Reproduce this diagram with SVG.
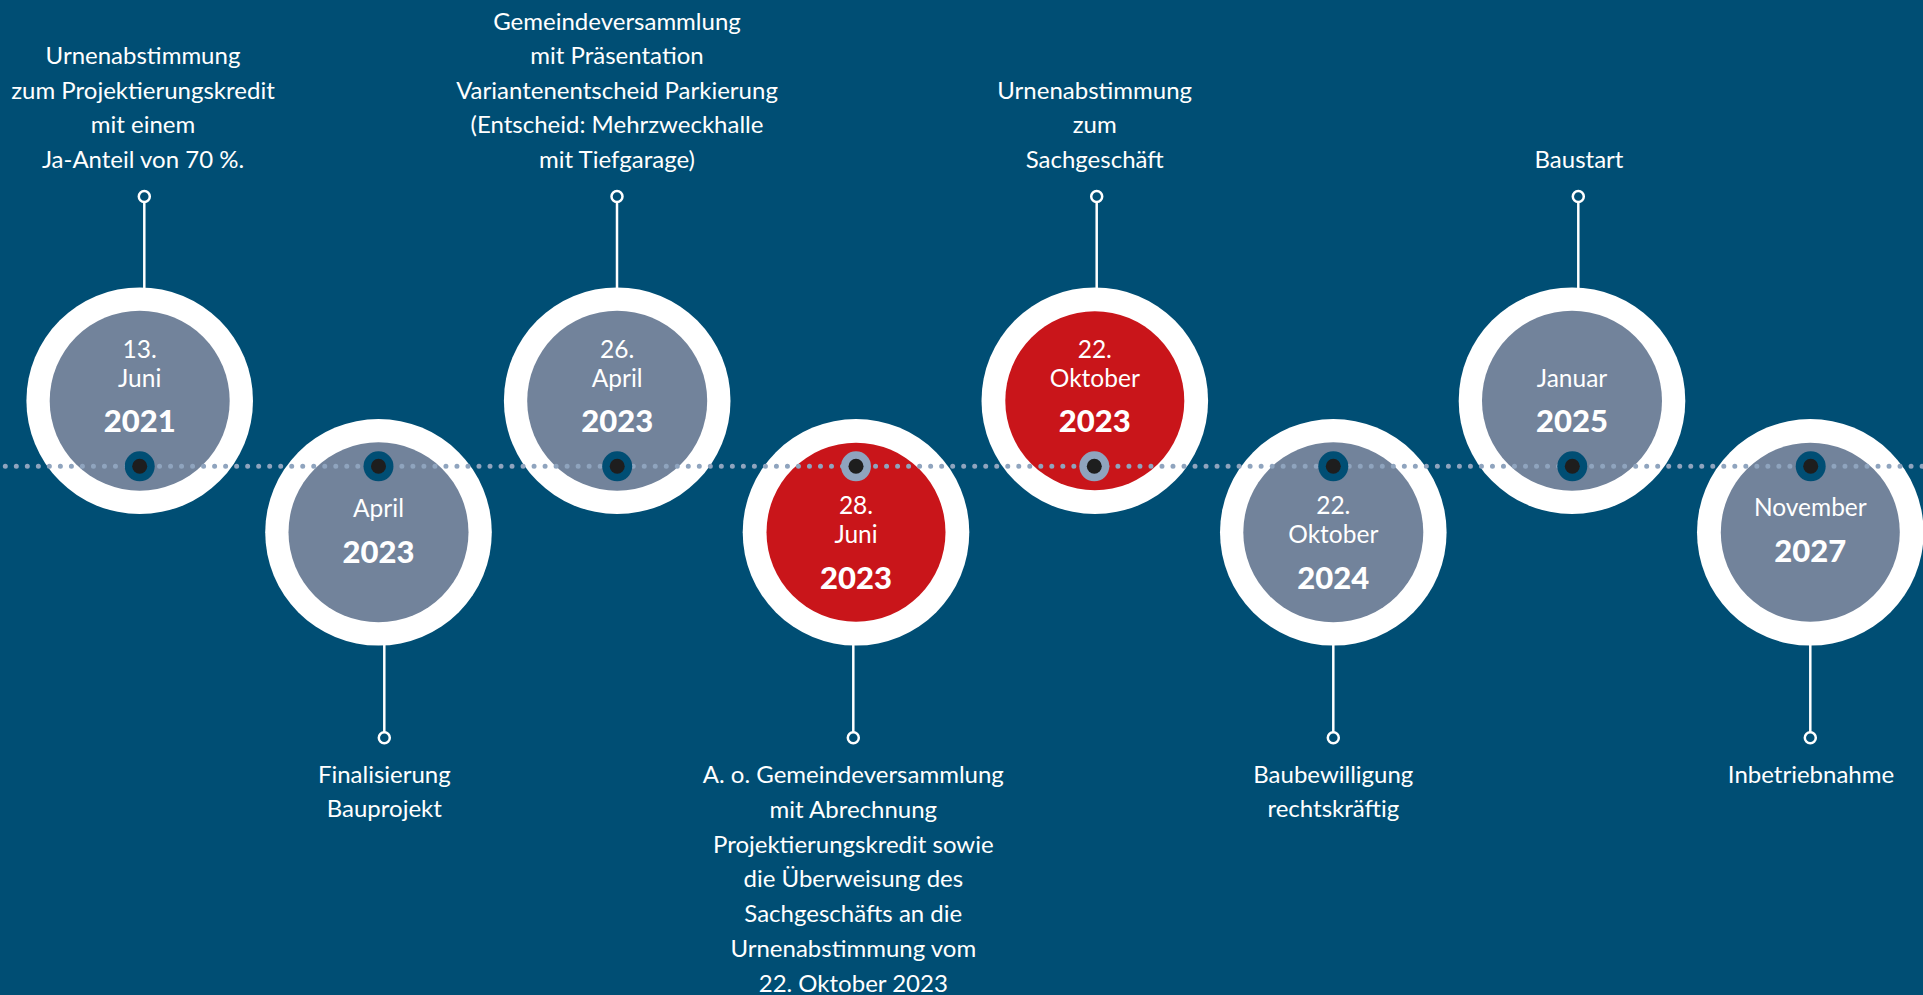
<svg xmlns="http://www.w3.org/2000/svg" width="1923" height="995" viewBox="0 0 1923 995">
<style>
.bg{fill:#004e74}
.ring{fill:#ffffff}
.gray{fill:#72839b}
.red{fill:#c9151a}
.t{font-family:Lato,"Open Sans","Liberation Sans",sans-serif;font-size:24px;fill:#ffffff;text-anchor:middle}
.d{font-family:Lato,"Open Sans","Liberation Sans",sans-serif;font-size:24.5px;fill:#ffffff;text-anchor:middle}
.y{font-family:Lato,"Open Sans","Liberation Sans",sans-serif;font-size:31px;font-weight:900;fill:#ffffff;text-anchor:middle}
.stem{stroke:#ffffff;stroke-width:2.5;fill:none}
.knob{fill:#004e74;stroke:#ffffff;stroke-width:2.5}
.mkO{fill:#004e74}
.mkG{fill:#8fa4be}
.mkI{fill:#1e1e1e}
.dots{stroke:#8fa4be;stroke-width:5;stroke-linecap:round;stroke-dasharray:0 11.016;fill:none}
</style>
<rect class="bg" x="0" y="0" width="1923" height="995"/>

<g id="connectors">
  <line class="stem" x1="144.3" y1="202" x2="144.3" y2="300"/>
  <circle class="knob" cx="144.3" cy="196.5" r="5.5"/>
  <line class="stem" x1="384.3" y1="630" x2="384.3" y2="732"/>
  <circle class="knob" cx="384.3" cy="737.7" r="5.5"/>
  <line class="stem" x1="617" y1="202" x2="617" y2="300"/>
  <circle class="knob" cx="617" cy="196.5" r="5.5"/>
  <line class="stem" x1="853.3" y1="630" x2="853.3" y2="732"/>
  <circle class="knob" cx="853.3" cy="737.7" r="5.5"/>
  <line class="stem" x1="1096.7" y1="202" x2="1096.7" y2="300"/>
  <circle class="knob" cx="1096.7" cy="196.5" r="5.5"/>
  <line class="stem" x1="1333.3" y1="630" x2="1333.3" y2="732"/>
  <circle class="knob" cx="1333.3" cy="737.7" r="5.5"/>
  <line class="stem" x1="1578.3" y1="202" x2="1578.3" y2="300"/>
  <circle class="knob" cx="1578.3" cy="196.5" r="5.5"/>
  <line class="stem" x1="1810.3" y1="630" x2="1810.3" y2="732"/>
  <circle class="knob" cx="1810.3" cy="737.7" r="5.5"/>
</g>

<g id="node1">
  <circle class="ring" cx="139.7" cy="400.7" r="113.3"/>
  <circle class="gray" cx="139.7" cy="400.7" r="90"/>
  <text class="d" x="139.7" y="358">13.</text>
  <text class="d" x="139.7" y="387">Juni</text>
  <text class="y" x="139.7" y="432">2021</text>
  <text class="t" x="143" y="64">Urnenabstimmung</text>
  <text class="t" x="143" y="98.5">zum Projektierungskredit</text>
  <text class="t" x="143" y="133">mit einem</text>
  <text class="t" x="143" y="167.5">Ja-Anteil von 70 %.</text>
</g>

<g id="node2">
  <circle class="ring" cx="378.5" cy="532.3" r="113.3"/>
  <circle class="gray" cx="378.5" cy="532.3" r="90"/>
  <text class="d" x="378.5" y="517.3">April</text>
  <text class="y" x="378.5" y="562.7">2023</text>
  <text class="t" x="384.3" y="783">Finalisierung</text>
  <text class="t" x="384.3" y="817.3">Bauprojekt</text>
</g>

<g id="node3">
  <circle class="ring" cx="617.2" cy="400.7" r="113.3"/>
  <circle class="gray" cx="617.2" cy="400.7" r="90"/>
  <text class="d" x="617.2" y="358">26.</text>
  <text class="d" x="617.2" y="387">April</text>
  <text class="y" x="617.2" y="432">2023</text>
  <text class="t" x="617" y="29.5">Gemeindeversammlung</text>
  <text class="t" x="617" y="64">mit Präsentation</text>
  <text class="t" x="617" y="98.5">Variantenentscheid Parkierung</text>
  <text class="t" x="617" y="133">(Entscheid: Mehrzweckhalle</text>
  <text class="t" x="617" y="167.5">mit Tiefgarage)</text>
</g>

<g id="node4">
  <circle class="ring" cx="856" cy="532.3" r="113.3"/>
  <circle class="red" cx="856" cy="532.3" r="89.5"/>
  <text class="d" x="856" y="514.3">28.</text>
  <text class="d" x="856" y="542.7">Juni</text>
  <text class="y" x="856" y="589">2023</text>
  <text class="t" x="853.3" y="783.3">A. o. Gemeindeversammlung</text>
  <text class="t" x="853.3" y="818">mit Abrechnung</text>
  <text class="t" x="853.3" y="852.7">Projektierungskredit sowie</text>
  <text class="t" x="853.3" y="887.4">die Überweisung des</text>
  <text class="t" x="853.3" y="922.1">Sachgeschäfts an die</text>
  <text class="t" x="853.3" y="956.8">Urnenabstimmung vom</text>
  <text class="t" x="853.3" y="991.5">22. Oktober 2023</text>
</g>

<g id="node5">
  <circle class="ring" cx="1094.8" cy="400.7" r="113.3"/>
  <circle class="red" cx="1094.8" cy="400.7" r="89.5"/>
  <text class="d" x="1094.8" y="358">22.</text>
  <text class="d" x="1094.8" y="387">Oktober</text>
  <text class="y" x="1094.8" y="432">2023</text>
  <text class="t" x="1094.7" y="99">Urnenabstimmung</text>
  <text class="t" x="1094.7" y="133.3">zum</text>
  <text class="t" x="1094.7" y="167.5">Sachgeschäft</text>
</g>

<g id="node6">
  <circle class="ring" cx="1333.3" cy="532.3" r="113.3"/>
  <circle class="gray" cx="1333.3" cy="532.3" r="90"/>
  <text class="d" x="1333.3" y="514.3">22.</text>
  <text class="d" x="1333.3" y="542.7">Oktober</text>
  <text class="y" x="1333.3" y="589">2024</text>
  <text class="t" x="1333.3" y="783">Baubewilligung</text>
  <text class="t" x="1333.3" y="817">rechtskräftig</text>
</g>

<g id="node7">
  <circle class="ring" cx="1572" cy="400.7" r="113.3"/>
  <circle class="gray" cx="1572" cy="400.7" r="90"/>
  <text class="d" x="1572" y="387">Januar</text>
  <text class="y" x="1572" y="432">2025</text>
  <text class="t" x="1579" y="167.5">Baustart</text>
</g>

<g id="node8">
  <circle class="ring" cx="1810.3" cy="532.3" r="113.3"/>
  <circle class="gray" cx="1810.3" cy="532.3" r="89.5"/>
  <text class="d" x="1810.3" y="516">November</text>
  <text class="y" x="1810.3" y="561.7">2027</text>
  <text class="t" x="1811" y="782.7">Inbetriebnahme</text>
</g>

<g id="timeline">
  <line class="dots" x1="5.3" y1="466.3" x2="1923" y2="466.3"/>
</g>

<g id="markers">
  <circle class="mkO" cx="139.7" cy="466.3" r="15"/><circle class="mkI" cx="139.7" cy="466.3" r="7.5"/>
  <circle class="mkO" cx="378.5" cy="466.3" r="15"/><circle class="mkI" cx="378.5" cy="466.3" r="7.5"/>
  <circle class="mkO" cx="617.2" cy="466.3" r="15"/><circle class="mkI" cx="617.2" cy="466.3" r="7.5"/>
  <circle class="mkG" cx="856" cy="466.3" r="15"/><circle class="mkI" cx="856" cy="466.3" r="7.5"/>
  <circle class="mkG" cx="1094.3" cy="466.3" r="15"/><circle class="mkI" cx="1094.3" cy="466.3" r="7.5"/>
  <circle class="mkO" cx="1333.3" cy="466.3" r="15"/><circle class="mkI" cx="1333.3" cy="466.3" r="7.5"/>
  <circle class="mkO" cx="1572.3" cy="466.3" r="15"/><circle class="mkI" cx="1572.3" cy="466.3" r="7.5"/>
  <circle class="mkO" cx="1810.7" cy="466.3" r="15"/><circle class="mkI" cx="1810.7" cy="466.3" r="7.5"/>
</g>
</svg>
